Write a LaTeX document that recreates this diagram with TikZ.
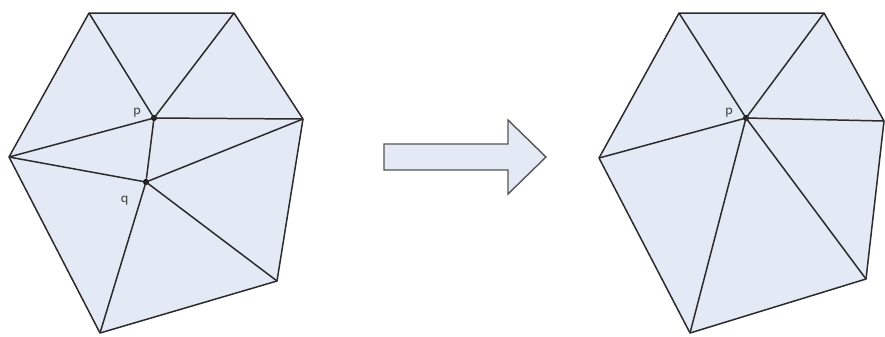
\documentclass[tikz,border=0pt]{standalone}
\usepackage{xcolor}
\usepackage{tikz}
\usetikzlibrary{positioning}
\definecolor{TriFill}{HTML}{E3E9F5}
\definecolor{TriEdge}{HTML}{2B2B2B}
\definecolor{ArrEdge}{HTML}{555555}
\definecolor{LblGray}{HTML}{444444}

\begin{document}
\begin{tikzpicture}[
  x=0.02cm,y=-0.02cm,
  every node/.style={font=\sffamily\footnotesize,text=LblGray},
  mesh/.style={draw=TriEdge,line width=0.85pt,fill=TriFill,line join=round},
  edge/.style={draw=TriEdge,line width=0.85pt},
  vtx/.style={circle,fill=black,inner sep=0pt,minimum size=3.4pt},
  bigarrow/.style={draw=ArrEdge,line width=0.8pt,fill=TriFill,line join=miter}
]
  \useasboundingbox (0,0) rectangle (885,336);
  % left mesh, before the edge collapse
  \coordinate (la) at (89,13);
  \coordinate (lb) at (234,13);
  \coordinate (lc) at (303,119);
  \coordinate (ld) at (277,281);
  \coordinate (le) at (100,333);
  \coordinate (lf) at (9,157);
  \path[mesh] (la) -- (lb) -- (lc) -- (ld) -- (le) -- (lf) -- cycle;
  \node[vtx] (p) at (154,118) {};
  \node[vtx] (q) at (146,182) {};
  \foreach \x in {la,lb,lc,lf,q}
    {\draw[edge] (p.center) -- (\x);}
  \foreach \x in {lf,lc,ld,le}
    {\draw[edge] (q.center) -- (\x);}
  \node[left=2pt of p,yshift=3pt] (plbl) {p};
  \node[below left=3pt and 5pt of q] (qlbl) {q};

  % the arrow between both meshes
  \coordinate (t1) at (384,144);
  \coordinate (t2) at (508,144);
  \coordinate (t3) at (508,120);
  \coordinate (tip) at (546,157);
  \coordinate (t4) at (508,194);
  \coordinate (t5) at (508,170);
  \coordinate (t6) at (384,170);
  \path[bigarrow] (t1) -- (t2) -- (t3) -- (tip) -- (t4) -- (t5) -- (t6) -- cycle;

  % right mesh, after the collapse into p
  \coordinate (ra) at (679,13);
  \coordinate (rb) at (824,13);
  \coordinate (rc) at (884,121);
  \coordinate (rd) at (866,279);
  \coordinate (re) at (690,333);
  \coordinate (rf) at (599,158);
  \path[mesh] (ra) -- (rb) -- (rc) -- (rd) -- (re) -- (rf) -- cycle;
  \node[vtx] (pp) at (746,118) {};
  \foreach \x in {ra,rb,rc,rd,re,rf}
    {\draw[edge] (pp.center) -- (\x);}
  \node[left=2pt of pp,yshift=3pt] (pplbl) {p};
\end{tikzpicture}
\end{document}
